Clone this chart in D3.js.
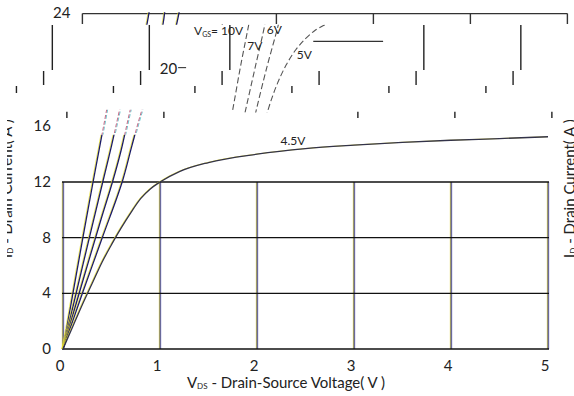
<!DOCTYPE html>
<html>
<head>
<meta charset="utf-8">
<script src="https://cdn.jsdelivr.net/npm/d3@7"></script>
<style>
  body { margin: 0; background: #fff; }
  text { font-family: Lato, "Open Sans", sans-serif; fill: #222; }
</style>
</head>
<body>
<div id="chart"></div>
<script>
// Output characteristics, ID vs VDS
const vdsTicks = [0, 1, 2, 3, 4, 5];
const idTicks = [0, 4, 8, 12, 16];
const idTicksUpper = [24, 20];
const idTicksUpperShift = [0.2, 1.3];
const gridRows = [4, 8];

// [VDS, ID]
const vgs10 = [[0, 0], [0.1, 3.9], [0.2, 7.8], [0.31, 12], [0.38, 14.6], [0.45, 17.2], [0.53, 20.3], [0.62, 23.5], [0.64, 24.3]];
const vgs7 = [[0, 0], [0.2, 5.9], [0.41, 12], [0.5, 14.6], [0.58, 17.1], [0.68, 20.2], [0.78, 23.3], [0.8, 24.3]];
const vgs6 = [[0, 0], [0.2, 4.8], [0.4, 9.5], [0.51, 12], [0.6, 14.3], [0.69, 17.1], [0.8, 20.2], [0.92, 23.3], [0.95, 24.3]];
const vgs5 = [[0, 0], [0.2, 4.0], [0.4, 7.9], [0.61, 12], [0.71, 14.6], [0.81, 17.1], [0.9, 18.9], [1.0, 20.4], [1.1, 21.5], [1.2, 22.3], [1.3, 22.9], [1.4, 23.3]];
const vgs5Flat = [[1.28, 22.1], [2.0, 22.1]];
const vgs45 = [[0, 0], [0.1, 1.6], [0.2, 3.2], [0.3, 4.7], [0.4, 6.2], [0.5, 7.5], [0.6, 8.7], [0.7, 9.8], [0.8, 10.8], [0.9, 11.5],
  [1.0, 12.0], [1.2, 12.75], [1.5, 13.4], [2.0, 14.0], [2.5, 14.4], [3.0, 14.65], [3.5, 14.85], [4.0, 15.0], [4.5, 15.12], [5.0, 15.25]];
const steepCurves = [vgs10, vgs7, vgs6, vgs5];
const curveNames = ['7V', '6V', '5V'];
const curveNamePos = [[0.6, 21.5], [0.8, 22.6], [1.11, 20.85]];

// the upper part of the scan is sliced into strips that slid sideways
const gridStrips = [
  { lo: 23.35, hi: 24.1, dv: 0.2, lines: [0, 2, 3, 4, 5] },
  { lo: 20.05, hi: 23.28, dv: -0.11, lines: [0, 1] },
  { lo: 20.05, hi: 23.28, dv: -0.28, lines: [2, 4, 5] },
  { lo: 18.97, hi: 19.97, dv: -0.2, lines: [0, 1] },
  { lo: 18.97, hi: 19.97, dv: -0.36, lines: [2, 3, 4, 5] },
  { lo: 18.4, hi: 18.9, dv: -0.48, lines: [0, 1] },
  { lo: 18.4, hi: 18.9, dv: -0.64, lines: [2, 3, 4, 5] },
  { lo: 16.6, hi: 17.05, dv: 0.04, lines: [0, 1, 3, 4, 5] }
];
const curveStrips = [
  { lo: -1, hi: 15.4, dv: 0, style: 'solid' },
  { lo: 15.4, hi: 17.2, dv: 0, style: 'fringe' },
  { lo: 17.0, hi: 23.3, dv: 1.3, style: 'dash' },
  { lo: 23.3, hi: 24.2, dv: 0.25, style: 'solid' }
];

const width = 574, height = 396;
const svg = d3.select('#chart').append('svg')
  .attr('width', width).attr('height', height);

const x = d3.scaleLinear().domain([0, 5]).range([63, 548]);
const y = d3.scaleLinear().domain([0, 24]).range([349, 15]);
const shift = dv => x(dv) - x(0);
const line = d3.line().x(d => x(d[0])).y(d => y(d[1])).curve(d3.curveMonotoneX);
const lineY = d3.line().x(d => x(d[0])).y(d => y(d[1])).curve(d3.curveCatmullRom);

const defs = svg.append('defs');
let clipId = 0;
function band(lo, hi, dv) {
  const id = 'c' + (clipId++);
  defs.append('clipPath').attr('id', id).append('rect')
    .attr('x', -200).attr('width', width + 400)
    .attr('y', y(hi)).attr('height', y(lo) - y(hi));
  return svg.append('g').attr('clip-path', `url(#${id})`)
    .append('g').attr('transform', `translate(${shift(dv)},0)`);
}

// vertical grid line: dark core with the yellow / blue fringe of the scan
function vline(g, v, lo, hi) {
  const px = x(v);
  [[-0.7, '#e2d630', 0.7], [0.7, '#4040d0', 0.7], [0, '#3a3a40', 0.9]].forEach(([dx, c, w]) => {
    g.append('line').attr('x1', px + dx).attr('x2', px + dx)
      .attr('y1', y(hi)).attr('y2', y(lo)).attr('stroke', c).attr('stroke-width', w);
  });
}

// lower grid box
const grid = svg.append('g');
vdsTicks.forEach(v => vline(grid, v, 0, 12));
[0, ...gridRows, 12].forEach(i => {
  grid.append('line').attr('x1', x(0) - 1).attr('x2', x(5) + 1)
    .attr('y1', y(i)).attr('y2', y(i)).attr('stroke', '#111').attr('stroke-width', 1.3);
});

// displaced grid pieces above the box
gridStrips.forEach(s => {
  const g = band(s.lo - 0.3, s.hi + 0.3, s.dv);
  s.lines.forEach(v => {
    g.append('line').attr('x1', x(v)).attr('x2', x(v))
      .attr('y1', y(s.hi)).attr('y2', y(s.lo))
      .attr('stroke', s.lo > 23 ? '#333' : '#222').attr('stroke-width', 1.4);
  });
});
{
  const g = band(23.5, 24.3, gridStrips[0].dv);
  g.append('line').attr('x1', x(0)).attr('x2', x(5))
    .attr('y1', y(24.1)).attr('y2', y(24.1)).attr('stroke', '#333').attr('stroke-width', 1.4);
}

// curves
curveStrips.forEach(s => {
  const g = band(s.lo, s.hi, s.dv);
  const list = s.lo < 15 ? [...steepCurves, vgs45] : steepCurves;
  list.forEach(c => {
    const gen = c === vgs45 ? line : lineY;
    if (s.style === 'solid') {
      g.append('path').attr('d', gen(c)).attr('fill', 'none')
        .attr('transform', 'translate(-1,0)')
        .attr('stroke', '#e8e02a').attr('stroke-width', 0.8);
      g.append('path').attr('d', gen(c)).attr('fill', 'none')
        .attr('stroke', c === vgs45 ? '#33334a' : '#1c1c66').attr('stroke-width', 1.3);
    } else if (s.style === 'fringe') {
      g.append('path').attr('d', gen(c)).attr('fill', 'none')
        .attr('transform', 'translate(1,0)')
        .attr('stroke', '#6cc8d0').attr('stroke-width', 1).attr('stroke-dasharray', '4,2');
      g.append('path').attr('d', gen(c)).attr('fill', 'none')
        .attr('stroke', '#c86a86').attr('stroke-width', 1).attr('stroke-dasharray', '4,2');
    } else {
      g.append('path').attr('d', gen(c)).attr('fill', 'none')
        .attr('stroke', '#555').attr('stroke-width', 1.1).attr('stroke-dasharray', '6,3');
    }
  });
  if (s.style === 'dash') {
    g.append('path').attr('d', d3.line().x(d => x(d[0])).y(d => y(d[1]))(vgs5Flat))
      .attr('fill', 'none').attr('stroke', '#333').attr('stroke-width', 1.2);
    // leader from the VGS label
    g.append('line').attr('x1', x(0.3)).attr('y1', y(23.5))
      .attr('x2', x(0.55)).attr('y2', y(24.3)).attr('stroke', '#333').attr('stroke-width', 1);
  }
});

// tick labels
svg.append('g').selectAll('text').data(vdsTicks).join('text')
  .attr('x', d => x(d) - 3).attr('y', y(0) + 22)
  .attr('text-anchor', 'middle').attr('font-size', 15).text(d => d);
svg.append('g').selectAll('text').data(idTicks).join('text')
  .attr('x', 51).attr('y', d => y(d) + 5)
  .attr('text-anchor', 'end').attr('font-size', 15).text(d => d);
svg.append('g').selectAll('text').data(idTicksUpper).join('text')
  .attr('x', (d, i) => 51 + shift(idTicksUpperShift[i])).attr('y', d => y(d) + 3)
  .attr('text-anchor', 'end').attr('font-size', 15).text(d => d);
svg.append('line')
  .attr('x1', 52 + shift(idTicksUpperShift[1])).attr('x2', 60 + shift(idTicksUpperShift[1]))
  .attr('y1', y(20) - 3).attr('y2', y(20) - 3).attr('stroke', '#222').attr('stroke-width', 1);

// curve labels
svg.append('text').attr('x', x(2.37)).attr('y', y(14.65))
  .attr('text-anchor', 'middle').attr('font-size', 12).text('4.5V');
const vg = svg.append('text').attr('x', 194).attr('y', y(22.55)).attr('font-size', 12);
vg.append('tspan').text('V');
vg.append('tspan').attr('font-size', 7).attr('dy', 2).text('GS');
vg.append('tspan').attr('dy', -2).text('= 10V');
curveNames.forEach((t, i) => {
  svg.append('text').attr('x', x(curveNamePos[i][0] + 1.3)).attr('y', y(curveNamePos[i][1]))
    .attr('font-size', 12).text(t);
});

// axis titles
const xt = svg.append('text').attr('x', 286).attr('y', 388)
  .attr('text-anchor', 'middle').attr('font-size', 15);
xt.append('tspan').text('V');
xt.append('tspan').attr('font-size', 8).attr('dy', 1).text('DS');
xt.append('tspan').attr('dy', -1).text(' - Drain-Source Voltage( V )');

function yTitle(bx) {
  const t = svg.append('text').attr('transform', `translate(${bx},258) rotate(-90)`).attr('font-size', 15);
  t.append('tspan').text('I');
  t.append('tspan').attr('font-size', 8).attr('dy', 1).text('D');
  t.append('tspan').attr('dy', -1).text(' - Drain Current( A )');
  return t;
}
defs.append('clipPath').attr('id', 'leftcut').append('rect')
  .attr('x', 7).attr('y', 0).attr('width', 30).attr('height', height);
svg.append('g').attr('clip-path', 'url(#leftcut)').node().appendChild(yTitle(12).node());
yTitle(575);
</script>
</body>
</html>
